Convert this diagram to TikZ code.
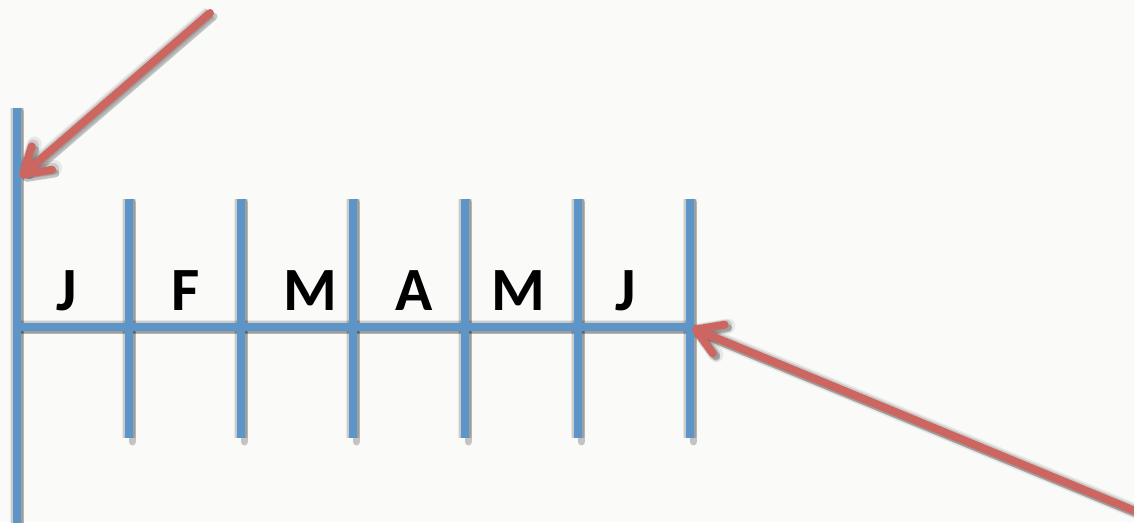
\documentclass[tikz,border=0pt]{standalone}
\usepackage{fontspec}
\setmainfont{Carlito}
\usetikzlibrary{arrows.meta}
\definecolor{paper}{HTML}{FAFAF8}
\definecolor{axisblue}{HTML}{5E95C9}
\definecolor{pointerred}{HTML}{CD6661}
\tikzset{
  shadowpass/.style={draw=black, line cap=round, line join=round,
    transform canvas={shift={(3.5,3.5)}},
    preaction={draw=black, opacity=0.07, line width=8.5pt},
    preaction={draw=black, opacity=0.12, line width=6.5pt},
    opacity=0.22, line width=4.5pt},
  axisline/.style={draw=axisblue, line width=0.16cm},
  barbtip/.style={-{Straight Barb[length=0.5cm, width=0.62cm, line cap=round, line join=round]}},
  pointer/.style={draw=pointerred, line width=0.16cm, line cap=round, line join=round, barbtip},
  month/.style={font=\bfseries\fontsize{35}{35}\selectfont, anchor=base, inner sep=0}
}
\begin{document}
\begin{tikzpicture}[x=0.02cm, y=-0.02cm]
  \fill[paper] (0,0) rectangle (1134,522);
  \useasboundingbox (0,0) rectangle (1134,522);

  % end points of the axis, the month baseline, the dividers and the pointers
  \coordinate (axtop) at (17,108);
  \coordinate (axbot) at (17,530);
  \coordinate (base0) at (13,327);
  \coordinate (base6) at (694,327);
  \foreach \i/\x in {1/129,2/241,3/353,4/465,5/578,6/690} {
    \coordinate (t\i) at (\x,199);
    \coordinate (b\i) at (\x,438);
  }
  \coordinate (p1start) at (210,13);
  \coordinate (p1end) at (20,177);
  \coordinate (p2start) at (1140,513);
  \coordinate (p2end) at (692,328);

  % soft drop shadows underneath every stroke
  \draw[shadowpass] (axtop) -- (axbot);
  \draw[shadowpass] (base0) -- (base6);
  \foreach \i in {1,...,6} \draw[shadowpass] (t\i) -- (b\i);
  \draw[shadowpass, barbtip] (p1start) -- (p1end);
  \draw[shadowpass, barbtip] (p2start) -- (p2end);

  % main vertical axis, month baseline and dividers
  \draw[axisline] (axtop) -- (axbot);
  \draw[axisline] (base0) -- (base6);
  \foreach \i in {1,...,6} \draw[axisline] (t\i) -- (b\i);

  % month initials
  \node[month] (m1) at (67,310) {J};
  \node[month] (m2) at (186,310) {F};
  \node[month] (m3) at (310,310) {M};
  \node[month] (m4) at (414,310) {A};
  \node[month] (m5) at (518,310) {M};
  \node[month] (m6) at (626,310) {J};

  % pointers
  \draw[pointer] (p1start) -- (p1end);
  \draw[pointer] (p2start) -- (p2end);
\end{tikzpicture}
\end{document}
